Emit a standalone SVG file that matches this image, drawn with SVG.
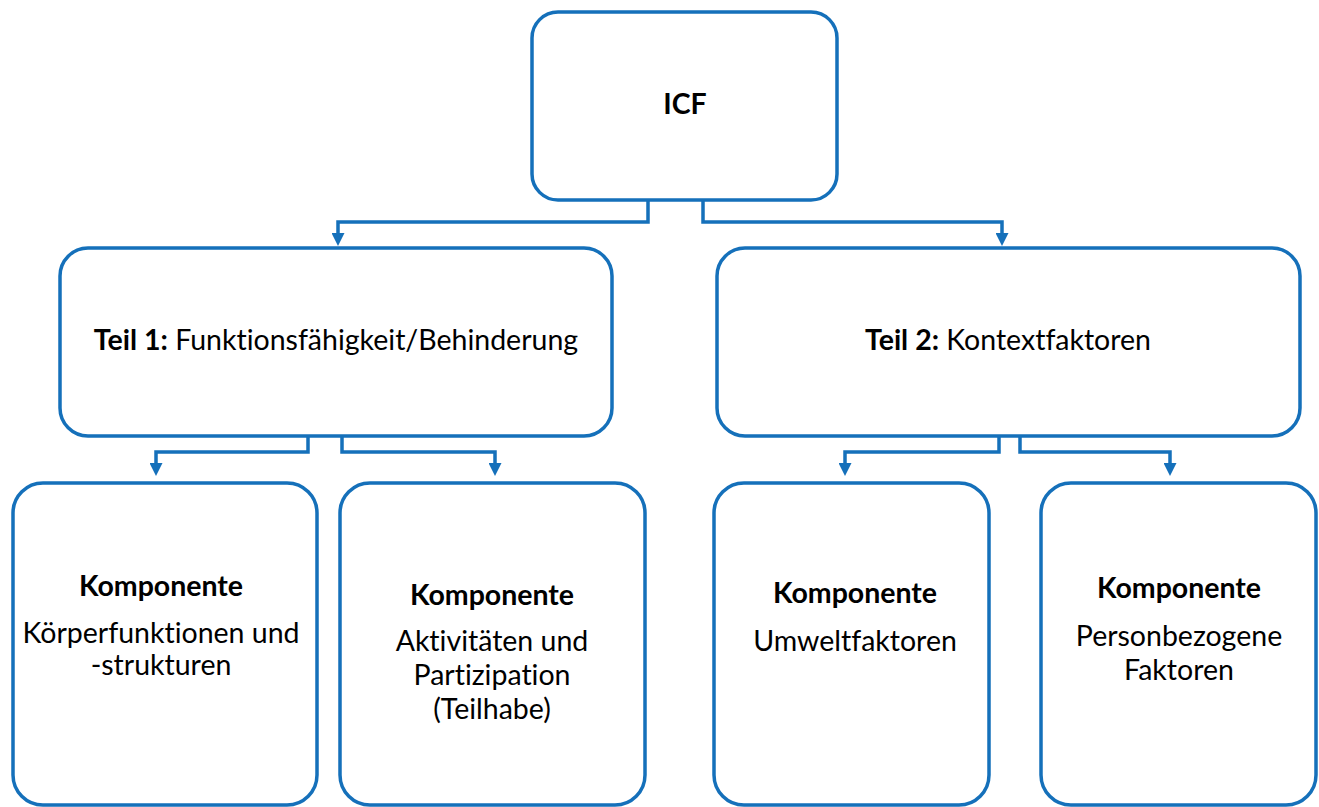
<svg xmlns="http://www.w3.org/2000/svg" width="1319" height="807" viewBox="0 0 1319 807">
<defs>
<style>
.box{fill:#fff;stroke:#1570BA;stroke-width:3.5}
.con{fill:none;stroke:#1570BA;stroke-width:3.5;stroke-linejoin:miter}
text{font-family:Lato,"Liberation Sans",sans-serif;font-size:28.5px;fill:#000;text-anchor:middle;font-variant-ligatures:none}
.b{font-weight:bold}
</style>
<marker id="ah" viewBox="0 0 13 13" refX="0" refY="6.5" markerWidth="13" markerHeight="13" markerUnits="userSpaceOnUse" orient="auto">
<path d="M0,0 L13,6.5 L0,13 Z" fill="#1570BA"/>
</marker>
</defs>
<rect width="1319" height="807" fill="#fff"/>
<g id="connectors">
<path class="con" d="M648,200 V222 H338 V233" marker-end="url(#ah)"/>
<path class="con" d="M703,200 V222 H1002 V233" marker-end="url(#ah)"/>
<path class="con" d="M308,436 V452 H156 V463" marker-end="url(#ah)"/>
<path class="con" d="M342,436 V452 H495 V463" marker-end="url(#ah)"/>
<path class="con" d="M999,436 V452 H845 V463" marker-end="url(#ah)"/>
<path class="con" d="M1020,436 V452 H1170 V463" marker-end="url(#ah)"/>
</g>
<g id="icf">
<rect class="box" x="532" y="12" width="305" height="188" rx="26"/>
<text class="b" x="685" y="114">ICF</text>
</g>
<g id="teil1">
<rect class="box" x="60" y="248" width="552" height="188" rx="28"/>
<text x="336" y="350"><tspan class="b">Teil 1:</tspan> Funktionsfähigkeit/Behinderung</text>
</g>
<g id="teil2">
<rect class="box" x="717" y="248" width="583" height="188" rx="28"/>
<text x="1008" y="350"><tspan class="b">Teil 2:</tspan> Kontextfaktoren</text>
</g>
<g id="k1">
<rect class="box" x="13" y="483" width="304" height="322" rx="30"/>
<text class="b" x="161" y="596">Komponente</text>
<text x="161" y="643">Körperfunktionen und</text>
<text x="161" y="675">-strukturen</text>
</g>
<g id="k2">
<rect class="box" x="340" y="483" width="305" height="322" rx="30"/>
<text class="b" x="492" y="605">Komponente</text>
<text x="492" y="651">Aktivitäten und</text>
<text x="492" y="685">Partizipation</text>
<text x="492" y="719">(Teilhabe)</text>
</g>
<g id="k3">
<rect class="box" x="714" y="483" width="275" height="322" rx="30"/>
<text class="b" x="855" y="603">Komponente</text>
<text x="855" y="651">Umweltfaktoren</text>
</g>
<g id="k4">
<rect class="box" x="1041" y="483" width="275" height="322" rx="30"/>
<text class="b" x="1179" y="598">Komponente</text>
<text x="1179" y="646">Personbezogene</text>
<text x="1179" y="680">Faktoren</text>
</g>
</svg>
